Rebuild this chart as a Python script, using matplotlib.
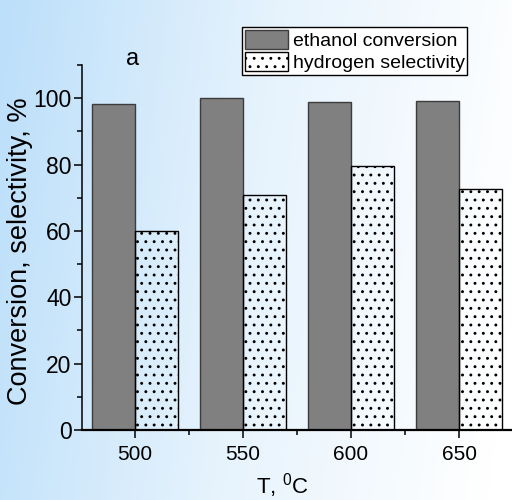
import numpy as np
import matplotlib
matplotlib.use("Agg")
import matplotlib.pyplot as plt
from matplotlib.colors import LinearSegmentedColormap

plt.rcParams["font.family"] = ["Liberation Sans", "DejaVu Sans"]
plt.rcParams["mathtext.fontset"] = "custom"
plt.rcParams["mathtext.rm"] = "Liberation Sans"
plt.rcParams["hatch.linewidth"] = 0.9

# data
temperatures = [500, 550, 600, 650]
ethanol_conversion = [98.3, 100.0, 98.8, 99.1]
hydrogen_selectivity = [60.1, 70.9, 79.7, 72.5]
y_ticks = [0, 20, 40, 60, 80, 100]

fig = plt.figure(figsize=(5.12, 5.0), dpi=100)

# light blue gradient background
bg = fig.add_axes([0, 0, 1, 1], zorder=-10)
bg.axis("off")
gx, gy = np.meshgrid(np.linspace(0, 1, 256), np.linspace(0, 1, 256))
shade = np.clip(gx * 0.92 + gy * 0.12, 0, 1)
cmap = LinearSegmentedColormap.from_list("bg", ["#bcdffa", "#e6f3fd", "#ffffff"])
bg.imshow(shade, cmap=cmap, aspect="auto", extent=[0, 1, 0, 1], origin="upper")

ax = fig.add_axes([0.160, 0.14, 0.84, 0.73])
ax.set_facecolor("none")

x = np.array(temperatures)
ax.bar(x - 10, ethanol_conversion, width=20, color="#808080",
       edgecolor="#3c3c3c", linewidth=1.0, label="ethanol conversion")
ax.bar(x + 10, hydrogen_selectivity, width=20, facecolor="none",
       edgecolor="black", hatch="..", linewidth=1.0,
       label="hydrogen selectivity")

ax.set_xlim(475.5, 674.5)
ax.set_ylim(0, 110)
ax.set_xticks(temperatures)
ax.set_xticks([525, 575, 625], minor=True)
ax.set_yticks(y_ticks)
ax.set_yticks([10, 30, 50, 70, 90, 110], minor=True)

for side in ("top", "right"):
    ax.spines[side].set_visible(False)
ax.spines["bottom"].set_linewidth(1.6)
ax.spines["left"].set_linewidth(1.1)
ax.tick_params(which="major", direction="out", length=6, width=1.1)
ax.tick_params(which="minor", direction="out", length=3.5, width=1.1)
ax.tick_params(axis="x", which="major", labelsize=15, pad=5)
ax.tick_params(axis="y", which="major", labelsize=16.5, pad=1.5)

ax.set_ylabel("Conversion, selectivity, %", fontsize=19.5)
ax.yaxis.set_label_coords(-0.114, 0.49)
ax.set_xlabel(r"T, $\mathregular{^0}$C", fontsize=16)
ax.xaxis.set_label_coords(0.465, -0.113)

ax.text(499, 110, "a", fontsize=17, ha="center", va="baseline", clip_on=False)

leg = ax.legend(loc="upper left", bbox_to_anchor=(242 / 512, 1 - 27 / 500),
                bbox_transform=fig.transFigure, fontsize=14, frameon=True,
                fancybox=False, edgecolor="black", framealpha=1,
                handlelength=2.2, handleheight=1.15, handletextpad=0.25,
                labelspacing=0.1, borderpad=0.15, borderaxespad=0)
leg.get_frame().set_linewidth(1.0)

fig.savefig("out.png", dpi=100)
